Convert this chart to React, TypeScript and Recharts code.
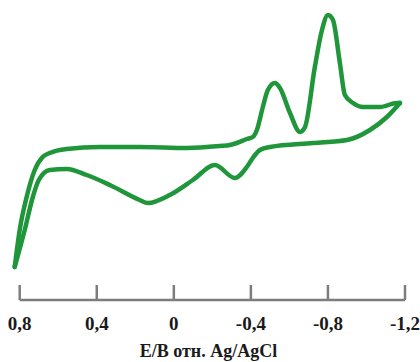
// Cyclic voltammogram, potential axis reversed (0,8 ... -1,2 V vs Ag/AgCl)
import { LineChart, Line, XAxis, YAxis, ReferenceLine } from "recharts";

// forward (upper) branch, potential in V and current in arbitrary units
const forwardE = [
  0.826, 0.8, 0.764, 0.722, 0.681, 0.644, 0.556, 0.384, 0.177, -0.068, -0.239,
  -0.291, -0.327, -0.379, -0.41, -0.431, -0.462, -0.488, -0.525, -0.551, -0.603,
  -0.655, -0.681, -0.732, -0.769, -0.8, -0.826, -0.862, -0.888, -0.93, -0.982,
  -1.07, -1.158, -1.174,
];
const forwardI = [
  33, 70, 103, 130, 143, 147, 151, 153, 153, 152, 154, 155, 157, 161, 163, 170,
  193, 210, 217, 212, 187, 168, 173, 233, 270, 285, 280, 237, 205, 197, 193, 193,
  197, 197,
];

// reverse (lower) branch
const reverseE = [
  0.826, 0.774, 0.732, 0.701, 0.644, 0.556, 0.452, 0.332, 0.177, 0.135, 0.021,
  -0.099, -0.213, -0.317, -0.379, -0.41, -0.447, -0.499, -0.722, -0.899, -1.018,
  -1.106, -1.174,
];
const reverseI = [
  33, 70, 103, 120, 130, 131, 125, 115, 100, 97, 105, 120, 135, 122, 133, 142,
  150, 153, 157, 160, 170, 183, 197,
];

const tickValues = [0.8, 0.4, 0, -0.4, -0.8, -1.2];
const axisTitle = "E/B отн. Ag/AgCl";

const forwardData = forwardE.map((e, k) => ({ e, i: forwardI[k] }));
const reverseData = reverseE.map((e, k) => ({ e, i: reverseI[k] }));

const GREEN = "#1f963a";
const GREY = "#7d7d7d";
const FONT = "'Liberation Serif', 'Times New Roman', serif";

function Tick(props: any) {
  const { x, y, payload } = props;
  const label = String(payload.value).replace(".", ",");
  return (
    <g>
      <line x1={x} x2={x} y1={y - 15} y2={y} stroke={GREY} strokeWidth={2.5} />
      <text
        x={x}
        y={y + 30}
        textAnchor="middle"
        fontFamily={FONT}
        fontWeight="bold"
        fontSize={19}
        fill="#1a1a1a"
      >
        {label}
      </text>
    </g>
  );
}

export default function App() {
  return (
    <div style={{ position: "absolute", left: 0, top: 0, background: "#fff" }}>
      <LineChart width={420} height={362} margin={{ top: 0, right: 15, left: 12, bottom: 0 }}>
        <XAxis
          dataKey="e"
          type="number"
          domain={[-1.2, 0.84]}
          reversed
          ticks={tickValues}
          interval={0}
          axisLine={false}
          tickLine={false}
          tickSize={0}
          tickMargin={0}
          height={62}
          tick={<Tick />}
          label={{
            value: axisTitle,
            position: "insideBottom",
            offset: 5,
            fontFamily: FONT,
            fontWeight: "bold",
            fontSize: 18,
            fill: "#1a1a1a",
          }}
        />
        <YAxis hide type="number" domain={[0, 300]} />
        <ReferenceLine
          segment={[
            { x: 0.8, y: 0 },
            { x: -1.2, y: 0 },
          ]}
          stroke={GREY}
          strokeWidth={2.5}
          ifOverflow="visible"
        />
        <Line
          data={forwardData}
          dataKey="i"
          type="monotone"
          dot={false}
          stroke={GREEN}
          strokeWidth={4.5}
          strokeLinejoin="round"
          strokeLinecap="round"
          isAnimationActive={false}
        />
        <Line
          data={reverseData}
          dataKey="i"
          type="monotone"
          dot={false}
          stroke={GREEN}
          strokeWidth={4.5}
          strokeLinejoin="round"
          strokeLinecap="round"
          isAnimationActive={false}
        />
      </LineChart>
    </div>
  );
}
